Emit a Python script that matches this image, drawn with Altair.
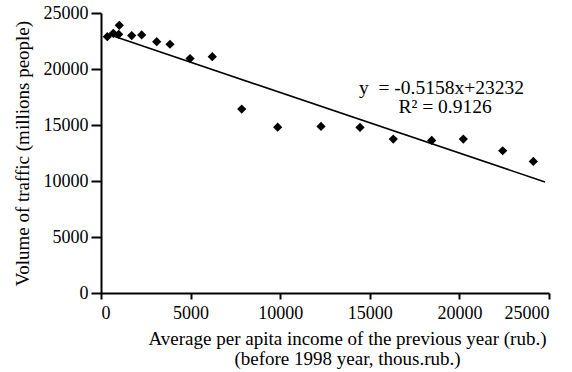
import altair as alt
import pandas as pd

# Data
income = [352, 686, 988, 1021, 1713, 2271, 3108, 3850, 4967, 6211,
          7852, 9860, 12277, 14453, 16311, 18454, 20218, 22416, 24124]
traffic = [22890, 23190, 23100, 23900, 22980, 23040, 22440, 22210, 20930, 21100,
           16420, 14810, 14870, 14780, 13740, 13620, 13740, 12700, 11750]

trend_income = [352, 24780]
trend_traffic = [23120, 9910]

eq_lines = ["y\u00a0\u00a0= -0.5158x+23232", "R\u00b2 = 0.9126"]
eq_x = [19000, 19200]
eq_y = [17760, 16070]

tick_values = [0, 5000, 10000, 15000, 20000, 25000]

FONT = "Liberation Serif"

pts = pd.DataFrame({"income": income, "traffic": traffic})
trend = pd.DataFrame({"income": trend_income, "traffic": trend_traffic})
eq = pd.DataFrame({"income": eq_x, "traffic": eq_y, "label": eq_lines})

x_scale = alt.Scale(domain=[0, 25000], nice=False, zero=True)
y_scale = alt.Scale(domain=[0, 25000], nice=False, zero=True)

x_axis = alt.Axis(
    values=tick_values, format="d",
    title=["Average per apita income of the previous year (rub.)",
           "(before 1998 year, thous.rub.)"],
    titleX=246, titleY=51.5, titleBaseline="alphabetic", titleAlign="center",
    titleLineHeight=19.5,
    tickSize=6, labelPadding=5,
)
y_axis = alt.Axis(
    values=tick_values, format="d",
    title="Volume of traffic (millions people)",
    titleX=-73, titleY=140, titleBaseline="alphabetic", titleAlign="center",
    tickSize=10, labelPadding=3,
)

X = alt.X("income:Q", scale=x_scale, axis=x_axis)
Y = alt.Y("traffic:Q", scale=y_scale, axis=y_axis)

line = alt.Chart(trend).mark_line(color="black", strokeWidth=1.6).encode(x=X, y=Y)

points = alt.Chart(pts).mark_point(
    shape="diamond", filled=True, color="black", size=85, opacity=1
).encode(x=X, y=Y)

text = alt.Chart(eq).mark_text(
    font=FONT, fontSize=19.5, align="center", baseline="alphabetic", color="black"
).encode(x=X, y=Y, text="label:N")

chart = alt.layer(line, points, text).properties(
    width=448, height=280,
    autosize=alt.AutoSizeParams(type="none"),
    padding={"left": 101, "top": 13, "right": 23, "bottom": 79},
    background="white",
).configure_view(stroke=None).configure_axis(
    grid=False,
    domainColor="black", domainWidth=2,
    tickColor="black", tickWidth=2,
    labelFont=FONT, labelFontSize=18, labelColor="black",
    titleFont=FONT, titleFontSize=19, titleFontWeight="normal", titleColor="black",
)

chart.save("out.html", embed_options={"renderer": "svg", "actions": False})
